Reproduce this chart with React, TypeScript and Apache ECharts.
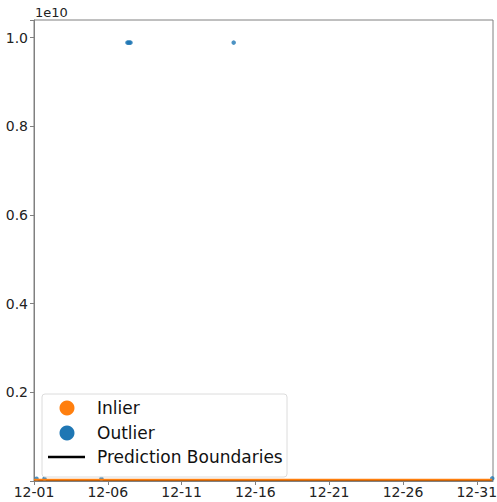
import React, { useEffect, useRef } from "react";
import * as echarts from "echarts";

// x = days since 12-01 00:00, y = value
const xTickLabels = ["12-01", "12-06", "12-11", "12-16", "12-21", "12-26", "12-31"];
const yTickLabels = ["0.2", "0.4", "0.6", "0.8", "1.0"];
const inlierDays = [0, 5, 10, 15, 20, 25, 31.05];
const inlierValues = [3e7, 3e7, 3e7, 3e7, 3e7, 3e7, 3e7];
const boundaryDays = [0, 31.05];
const boundaryValues = [2e7, 2e7];
const outlierDays = [6.33, 6.4, 6.47, 6.54, 13.53, 0.17, 0.71, 4.57, 31.05];
const outlierValues = [9.89e9, 9.89e9, 9.89e9, 9.89e9, 9.89e9, 5e7, 5e7, 5e7, 6e7];

const ORANGE = "#ff7f0e";
const BLUE = "#1f77b4";
const FONT = "DejaVu Sans";

export default function App() {
  const ref = useRef<HTMLDivElement>(null);
  useEffect(() => {
    if (!ref.current) return;
    const chart = echarts.init(ref.current, undefined, { renderer: "svg" });
    const legendItems = [
      { label: "Inlier", y: 408 },
      { label: "Outlier", y: 433 },
      { label: "Prediction Boundaries", y: 457 },
    ];
    chart.setOption({
      animation: false,
      backgroundColor: "#ffffff",
      grid: {
        left: 34,
        right: 4,
        top: 20,
        bottom: 21,
        show: true,
        borderColor: "#808080",
        borderWidth: 1,
        containLabel: false,
        outerBoundsMode: "none",
      },
      xAxis: {
        type: "value",
        min: 0,
        max: 31.1,
        interval: 5,
        axisLine: { show: true, lineStyle: { color: "#808080", width: 1 } },
        axisTick: { show: true, length: 4, lineStyle: { color: "#808080" } },
        splitLine: { show: false },
        axisLabel: {
          margin: 4,
          fontFamily: FONT,
          fontSize: 14,
          color: "#222",
          hideOverlap: false,
          showMaxLabel: false,
          formatter: (v: number) => {
            if (Math.abs(v / 5 - Math.round(v / 5)) > 1e-6) return "";
            return xTickLabels[Math.round(v / 5)] ?? "";
          },
        },
      },
      yAxis: {
        type: "value",
        min: 0,
        max: 1.04e10,
        interval: 2e9,
        axisLine: { show: true, lineStyle: { color: "#808080", width: 1 } },
        axisTick: { show: true, length: 4, lineStyle: { color: "#808080" } },
        splitLine: { show: false },
        axisLabel: {
          margin: 6,
          fontFamily: FONT,
          fontSize: 14,
          color: "#222",
          hideOverlap: false,
          formatter: (v: number) => {
            const k = v / 2e9;
            if (Math.abs(k - Math.round(k)) > 1e-6) return "";
            const i = Math.round(k) - 1;
            return i >= 0 ? yTickLabels[i] ?? "" : "";
          },
        },
      },
      series: [
        {
          name: "Prediction Boundaries",
          type: "line",
          showSymbol: false,
          clip: false,
          data: boundaryDays.map((d, i) => [d, boundaryValues[i]]),
          lineStyle: { color: "#000", width: 2 },
          z: 1,
        },
        {
          name: "Inlier",
          type: "line",
          showSymbol: false,
          clip: false,
          data: inlierDays.map((d, i) => [d, inlierValues[i]]),
          lineStyle: { color: ORANGE, width: 2 },
          z: 2,
        },
        {
          name: "Outlier",
          type: "scatter",
          symbol: "circle",
          symbolSize: 4.5,
          clip: false,
          data: outlierDays.map((d, i) => [d, outlierValues[i]]),
          itemStyle: { color: BLUE },
          z: 1,
        },
      ],
      graphic: [
        {
          type: "text",
          left: 35,
          top: 6,
          style: { text: "1e10", fontFamily: FONT, fontSize: 13, fill: "#222" },
        },
        {
          type: "rect",
          shape: { x: 42, y: 394, width: 245, height: 83, r: 3 },
          style: { fill: "rgba(255,255,255,0.8)", stroke: "#dcdcdc", lineWidth: 1 },
          z: 10,
        },
        {
          type: "circle",
          shape: { cx: 67, cy: legendItems[0].y, r: 7.5 },
          style: { fill: ORANGE },
          z: 11,
        },
        {
          type: "circle",
          shape: { cx: 67, cy: legendItems[1].y, r: 7.5 },
          style: { fill: BLUE },
          z: 11,
        },
        {
          type: "line",
          shape: { x1: 48, y1: legendItems[2].y, x2: 85, y2: legendItems[2].y },
          style: { stroke: "#000", lineWidth: 2.5 },
          z: 11,
        },
        ...legendItems.map((it) => ({
          type: "text",
          x: 97,
          y: it.y,
          style: {
            text: it.label,
            fontFamily: FONT,
            fontSize: 17,
            fill: "#111",
            verticalAlign: "middle",
          },
          z: 11,
        })),
      ],
    });
    return () => chart.dispose();
  }, []);
  return (
    <div
      ref={ref}
      style={{ position: "fixed", left: 0, top: 0, width: 497, height: 502 }}
    />
  );
}
